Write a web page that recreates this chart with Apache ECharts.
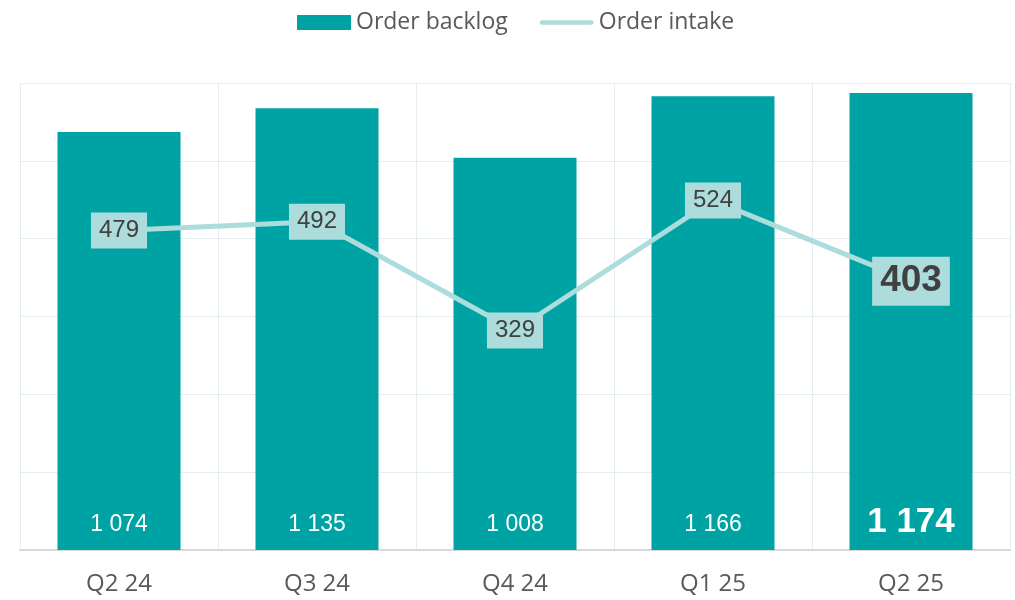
<!DOCTYPE html>
<html lang="en">
<head>
    <meta charset="UTF-8">
    <title>Order backlog and order intake</title>
    <style>
        body { margin: 0; padding: 0; background: #fff; }
        #chart-container { width: 1015px; height: 600px; }
    </style>
</head>
<body>
    <div id="chart-container"></div>
    <script src="https://cdn.jsdelivr.net/npm/echarts@6/dist/echarts.min.js"></script>
    <script>
        // data
        const quarters = ['Q2 24', 'Q3 24', 'Q4 24', 'Q1 25', 'Q2 25'];
        const backlog = [1074, 1135, 1008, 1166, 1174];
        const intake = [479, 492, 329, 524, 403];

        const fmt = v => String(v).replace(/\B(?=(\d{3})+(?!\d))/g, ' ');
        const last = quarters.length - 1;

        // last quarter is highlighted with bigger bold labels
        const barData = backlog.map((v, i) => i === last
            ? { value: v, label: { fontSize: 35, fontWeight: 'bold', distance: 10 } }
            : v);
        const lineData = intake.map((v, i) => i === last
            ? { value: v, label: { fontSize: 37, fontWeight: 'bold', padding: [6, 8, 6, 8] } }
            : v);

        const chart = echarts.init(document.getElementById('chart-container'));
        chart.setOption({
            animation: false,
            textStyle: { fontFamily: 'Liberation Sans' },
            legend: {
                top: 6,
                left: 292,
                itemGap: 32,
                itemWidth: 54,
                itemHeight: 15,
                textStyle: { fontSize: 23, color: '#595959', fontFamily: 'Open Sans' },
                data: [
                    { name: 'Order backlog', icon: 'rect' },
                    { name: 'Order intake', icon: 'path://M2,0 L54,0 A2.5,2.5 0 0 1 54,5 L2,5 A2.5,2.5 0 0 1 2,0 Z' }
                ]
            },
            grid: { left: 20, right: 5, top: 83, bottom: 50 },
            xAxis: {
                type: 'category',
                data: quarters,
                axisTick: { show: false },
                axisLine: { lineStyle: { color: '#d9d9d9', width: 2 } },
                axisLabel: { fontSize: 24, color: '#595959', margin: 22, fontFamily: 'Open Sans' },
                splitLine: { show: true, lineStyle: { color: '#e4eeee', width: 1 } }
            },
            yAxis: [
                {
                    type: 'value', min: 0, max: 1200, interval: 200,
                    axisLabel: { show: false },
                    axisLine: { show: false }, axisTick: { show: false },
                    splitLine: { lineStyle: { color: '#e4eeee', width: 1 } }
                },
                {
                    type: 'value', min: 0, max: 700,
                    show: false,
                    splitLine: { show: false }
                }
            ],
            series: [
                {
                    name: 'Order backlog',
                    type: 'bar',
                    barWidth: 123,
                    itemStyle: { color: '#00a3a3' },
                    label: {
                        show: true,
                        position: 'insideBottom',
                        distance: 14,
                        color: '#fff',
                        fontSize: 23,
                        formatter: p => fmt(p.value)
                    },
                    data: barData
                },
                {
                    name: 'Order intake',
                    type: 'line',
                    yAxisIndex: 1,
                    symbol: 'circle',
                    symbolSize: 1,
                    lineStyle: { color: '#acdcdc', width: 5 },
                    itemStyle: { color: '#acdcdc' },
                    label: {
                        show: true,
                        position: 'inside',
                        color: '#404040',
                        fontSize: 24,
                        backgroundColor: '#acdcdc',
                        padding: [6, 8, 6, 8],
                        formatter: p => fmt(p.value)
                    },
                    data: lineData
                }
            ]
        });
    </script>
</body>
</html>
